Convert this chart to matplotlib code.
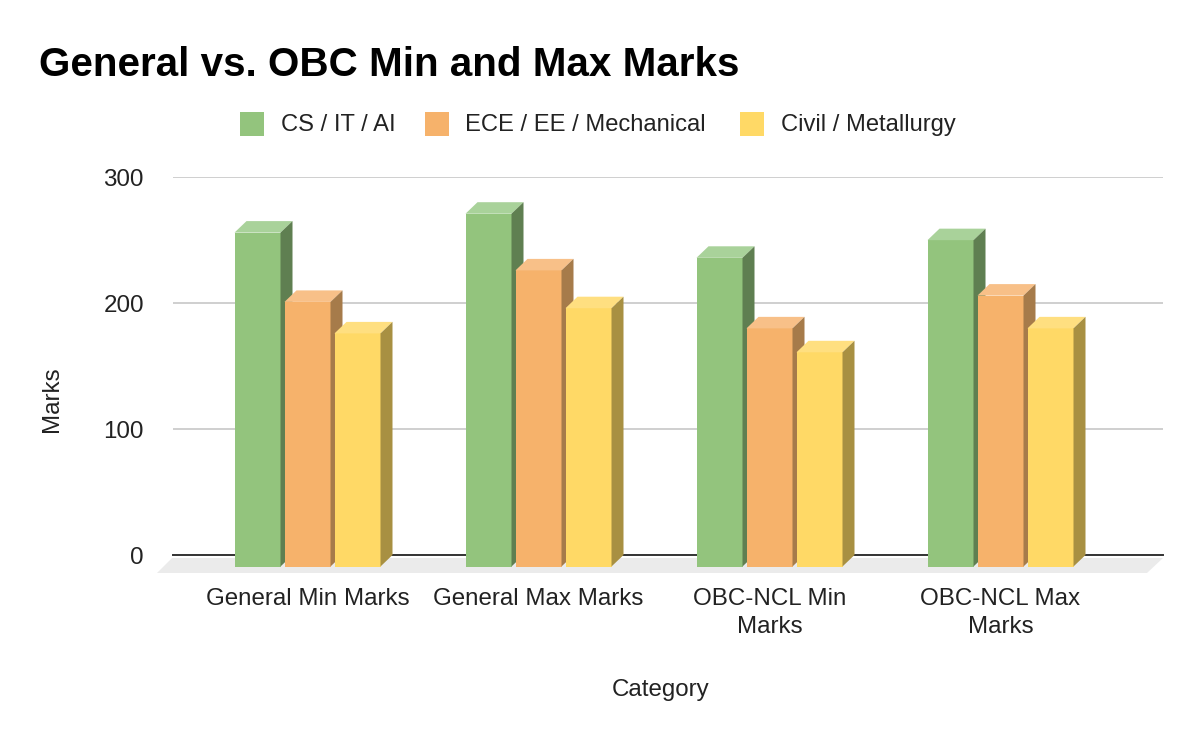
import numpy as np
import matplotlib
matplotlib.use('Agg')
import matplotlib.pyplot as plt
from matplotlib.patches import Rectangle

plt.rcParams['font.family'] = ['Liberation Sans', 'DejaVu Sans']

# 成绩数据
categories = ['General Min Marks', 'General Max Marks', 'OBC-NCL Min\nMarks', 'OBC-NCL Max\nMarks']
series_names = ['CS / IT / AI', 'ECE / EE / Mechanical', 'Civil / Metallurgy']
cs_marks = [265, 280, 245, 259]
ece_marks = [210, 235, 189, 215]
civil_marks = [185, 205, 170, 189]
y_ticks = [0, 100, 200, 300]

W, H = 1200, 742
fig = plt.figure(figsize=(W / 100, H / 100), dpi=100, facecolor='white')

# 绘图区，后墙从 x=173 到 1163，y=555 到 177
ax = fig.add_axes([173 / W, 1 - 555 / H, 990 / W, 378 / H])
group_step = 231
x_center = 307.5
ax.set_xlim((173 - x_center) / group_step, (1163 - x_center) / group_step)
ax.set_ylim(0, 300)
px_y = 378 / 300

# 立体进深
depth_x = 12 / group_step
depth_y = 11.5 / px_y
bar_w = 46 / group_step
bar_step = 50 / group_step

for s in ax.spines.values():
    s.set_visible(False)
ax.set_yticks(y_ticks)
ax.set_xticks(np.arange(len(categories)))
ax.set_xticklabels(categories, fontsize=17.4, color='#222222', linespacing=1.36)
ax.tick_params(axis='x', length=0, pad=24)
ax.tick_params(axis='y', length=0, pad=21, labelsize=17.4, labelcolor='#222222')
ax.grid(axis='y', color='#cccccc', linewidth=1.3, zorder=1)
ax.grid(axis='x', visible=False)
ax.set_axisbelow(True)
ax.axhline(0, color='#333333', linewidth=1.4, zorder=2, clip_on=False)

# 地面
x0, x1 = ax.get_xlim()
floor_x = [x0 - 0.004, x1, x1 - 16 / group_step, x0 - 16 / group_step]
floor_y = [-3 / px_y, -3 / px_y, -18 / px_y, -18 / px_y]
ax.fill(floor_x, floor_y, color='#ebebeb', linewidth=0, zorder=1.5, clip_on=False)

series = [cs_marks, ece_marks, civil_marks]
front_colors = ['#93c47d', '#f6b26b', '#ffd966']
top_colors = ['#a9d29a', '#f8c088', '#ffdf80']
side_colors = ['#5f7f51', '#a67b4a', '#a89042']

z = 3
for i in range(len(categories)):
    for j, vals in enumerate(series):
        left = i + (j - 1) * bar_step - bar_w / 2
        right = left + bar_w
        v = vals[i]
        front_top = v - depth_y
        ax.bar(left, v, width=bar_w, bottom=-depth_y, align='edge', color=front_colors[j],
               linewidth=0, zorder=z, clip_on=False)
        # 顶面
        ax.fill([left, right, right + depth_x, left + depth_x],
                [front_top, front_top, v, v],
                color=top_colors[j], linewidth=0, zorder=z, clip_on=False)
        # 侧面
        ax.fill([right, right + depth_x, right + depth_x, right],
                [front_top, v, 0, -depth_y],
                color=side_colors[j], linewidth=0, zorder=z, clip_on=False)
        z += 1

fig.text(39 / W, 1 - 76 / H, 'General vs. OBC Min and Max Marks', fontsize=29.1,
         fontweight='bold', color='black', va='baseline', ha='left')

# 图例
legend_box_x = [240, 425, 740]
legend_text_x = [281, 465, 781]
for bx, tx, name, c in zip(legend_box_x, legend_text_x, series_names, front_colors):
    fig.add_artist(Rectangle((bx / W, 1 - 136 / H), 24 / W, 24 / H, transform=fig.transFigure,
                             facecolor=c, edgecolor='none'))
    fig.text(tx / W, 1 - 131 / H, name, fontsize=17.1, color='#222222', va='baseline', ha='left')

fig.text(52 / W, 1 - 399 / H, 'Marks', fontsize=17.4, color='#222222', rotation=90,
         va='center', ha='center')
fig.text(661 / W, 1 - 696 / H, 'Category', fontsize=17.4, color='#222222',
         va='baseline', ha='center')

plt.savefig('out.png', dpi=100)
